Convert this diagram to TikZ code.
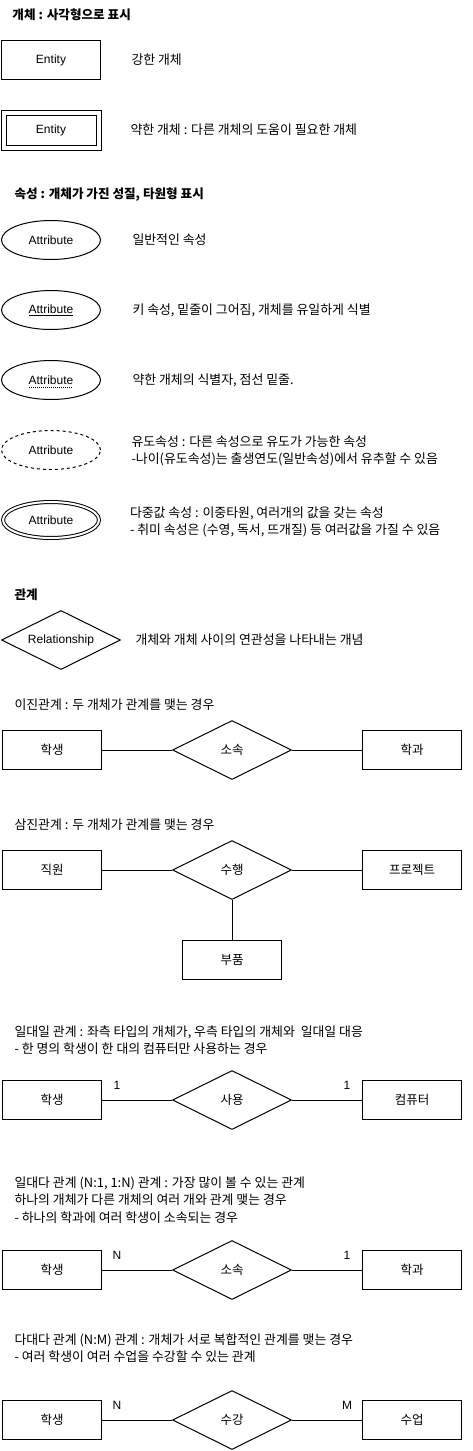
\documentclass[tikz,border=0pt]{standalone}
\usepackage{fontspec}
\setmainfont{Liberation Sans}
\newfontfamily\kr{Noto Sans CJK KR}
\usepackage{tikz}
\usetikzlibrary{shapes, positioning, calc, chains}

\tikzset{
	every node/.style={font=\fontsize{12}{14}\selectfont},
	kor/.style={font=\kr\fontsize{12.5}{14}\selectfont},
	entity/.style={draw, rectangle, minimum width=99pt, minimum height=39pt, inner sep=0pt},
	weakentity/.style={entity, double, double distance=4pt, minimum width=95pt, minimum height=35pt},
	attr/.style={draw, ellipse, minimum width=99pt, minimum height=39pt, inner sep=0pt},
	rel/.style={draw, diamond, aspect=2, minimum width=119pt, minimum height=59pt, inner sep=0pt},
	note/.style={font=\kr\fontsize{12.9}{17.5}\selectfont, align=left, inner sep=0pt},
	title/.style={font=\kr\bfseries\fontsize{12.6}{17}\selectfont, anchor=west, inner sep=0pt},
}

\begin{document}
\begin{tikzpicture}[x=1pt, y=-1pt, line width=1pt]
	\useasboundingbox (0,0) rectangle (472,1451);

	% entity
	\node[title] (t1) at (12,15) {개체 : 사각형으로 표시};
	\node[entity] (e1) at (51,60) {Entity};
	\node[note, right=30pt of e1] (d1) {강한 개체};
	\node[weakentity] (e2) at (51,130) {Entity};
	\node[note, right=31pt of e2] (d2) {약한 개체 : 다른 개체의 도움이 필요한 개체};

	% attribute
	\node[title] (t2) at (14,195) {속성 : 개체가 가진 성질, 타원형 표시};
	\node[attr] (a1) at (51,240) {Attribute};
	\node[note, right=31pt of a1] (d3) {일반적인 속성};
	\node[attr] (a2) at (51,310) {\underline{Attribute}};
	\node[note, right=31pt of a2] (d4) {키 속성, 밑줄이 그어짐, 개체를 유일하게 식별};
	\node[attr] (a3) at (51,380) {Attribute};
	\draw[dash pattern=on 1pt off 1pt] ($(a3.center)+(-22,7)$) -- ($(a3.center)+(22,7)$);
	\node[note, right=31pt of a3] (d5) {약한 개체의 식별자, 점선 밑줄.};
	\node[attr, dash pattern=on 3pt off 3pt] (a4) at (51,450) {Attribute};
	\node[note, right=30pt of a4, yshift=-1pt] (d6) {유도속성 : 다른 속성으로 유도가 가능한 속성\\-나이(유도속성)는 출생연도(일반속성)에서 유추할 수 있음};
	\node[attr, double, double distance=2pt, minimum width=96pt, minimum height=36pt] (a5) at (51,520) {Attribute};
	\node[note, right=30pt of a5, yshift=-2pt] (d7) {다중값 속성 : 이중타원, 여러개의 값을 갖는 속성\\- 취미 속성은 (수영, 독서, 뜨개질) 등 여러값을 가질 수 있음};

	% relationship
	\node[title] (t3) at (14,595) {관계};
	\node[rel] (r0) at (61,640) {Relationship};
	\node[note, right=14pt of r0] (d8) {개체와 개체 사이의 연관성을 나타내는 개념};

	% binary
	\node[note, anchor=west] (t4) at (14,705) {이진관계 : 두 개체가 관계를 맺는 경우};
	\begin{scope}[start chain=1 going right, node distance=70pt]
		\node[entity, kor, on chain=1] (s1) at (52,750) {학생};
		\node[rel, kor, on chain=1] (r1) {소속};
		\node[entity, kor, on chain=1] (m1) {학과};
	\end{scope}
	\draw (s1) -- (r1) -- (m1);

	% ternary
	\node[note, anchor=west] (t5) at (14,825) {삼진관계 : 두 개체가 관계를 맺는 경우};
	\begin{scope}[start chain=2 going right, node distance=70pt]
		\node[entity, kor, on chain=2] (s2) at (52,870) {직원};
		\node[rel, kor, on chain=2] (r2) {수행};
		\node[entity, kor, on chain=2] (m2) {프로젝트};
	\end{scope}
	\node[entity, kor, below=40pt of r2] (p2) {부품};
	\draw (s2) -- (r2) -- (m2);
	\draw (r2) -- (p2);

	% one to one
	\node[note, anchor=west] (t6) at (14,1040) {일대일 관계 : 좌측 타입의 개체가, 우측 타입의 개체와~ 일대일 대응\\- 한 명의 학생이 한 대의 컴퓨터만 사용하는 경우};
	\begin{scope}[start chain=3 going right, node distance=70pt]
		\node[entity, kor, on chain=3] (s3) at (52,1100) {학생};
		\node[rel, kor, on chain=3] (r3) {사용};
		\node[entity, kor, on chain=3] (m3) {컴퓨터};
	\end{scope}
	\draw (s3) -- (r3) -- (m3);
	\node (c3l) at (117,1085) {1};
	\node (c3r) at (347,1085) {1};

	% one to many
	\node[note, anchor=west] (t7) at (14,1200) {일대다 관계 (N:1, 1:N) 관계 : 가장 많이 볼 수 있는 관계\\하나의 개체가 다른 개체의 여러 개와 관계 맺는 경우\\- 하나의 학과에 여러 학생이 소속되는 경우};
	\begin{scope}[start chain=4 going right, node distance=70pt]
		\node[entity, kor, on chain=4] (s4) at (52,1270) {학생};
		\node[rel, kor, on chain=4] (r4) {소속};
		\node[entity, kor, on chain=4] (m4) {학과};
	\end{scope}
	\draw (s4) -- (r4) -- (m4);
	\node (c4l) at (117,1255) {N};
	\node (c4r) at (347,1255) {1};

	% many to many
	\node[note, anchor=west] (t8) at (14,1348) {다대다 관계 (N:M) 관계 : 개체가 서로 복합적인 관계를 맺는 경우\\- 여러 학생이 여러 수업을 수강할 수 있는 관계};
	\begin{scope}[start chain=5 going right, node distance=70pt]
		\node[entity, kor, on chain=5] (s5) at (52,1420) {학생};
		\node[rel, kor, on chain=5] (r5) {수강};
		\node[entity, kor, on chain=5] (m5) {수업};
	\end{scope}
	\draw (s5) -- (r5) -- (m5);
	\node (c5l) at (117,1405) {N};
	\node (c5r) at (347,1405) {M};
\end{tikzpicture}
\end{document}
